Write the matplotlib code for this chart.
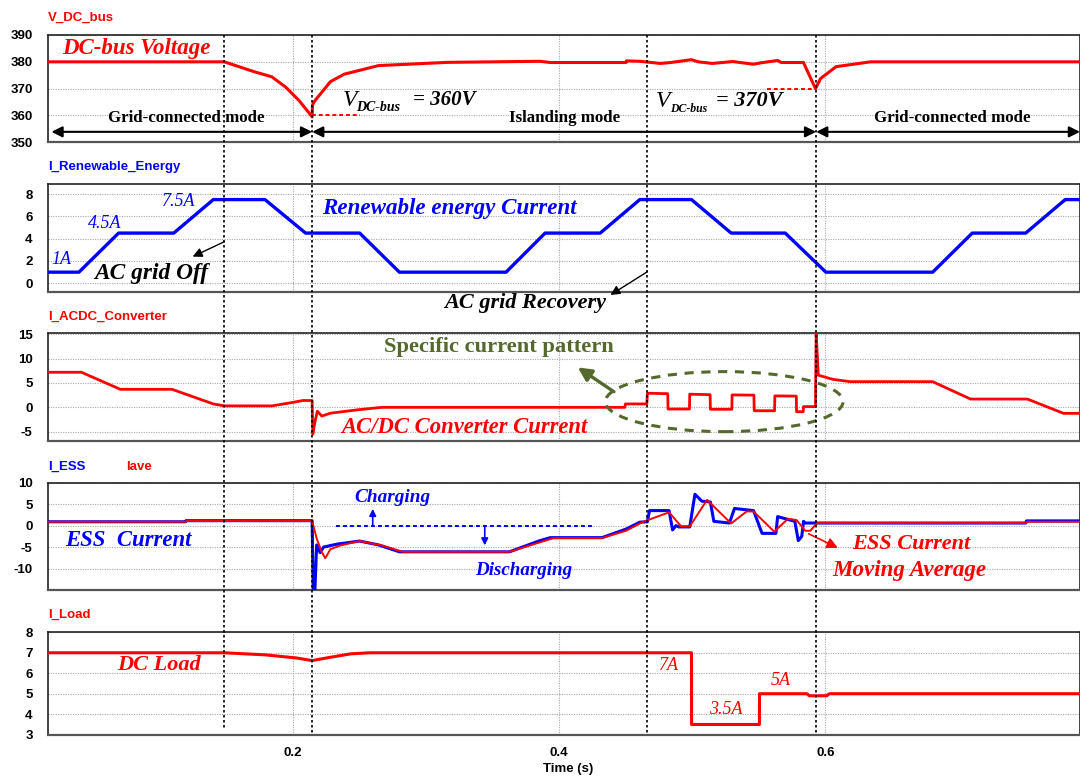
import matplotlib
matplotlib.use("Agg")
import matplotlib.pyplot as plt
from matplotlib.lines import Line2D
from matplotlib.patches import Ellipse
import matplotlib.transforms as mtransforms

plt.rcParams["axes.unicode_minus"] = False

# ---------------- data ----------------
xticks = [0.2, 0.4, 0.6]
xtick_labels = ["0.2", "0.4", "0.6"]
event_times = [0.1488, 0.2147, 0.4664, 0.5931]

vdc_t = [0.0164, 0.1488, 0.170, 0.1845, 0.195, 0.205, 0.2147, 0.2150, 0.2168, 0.2284, 0.2388,
         0.2646, 0.3164, 0.3857, 0.3935, 0.4504, 0.4507, 0.4607, 0.4762, 0.4840, 0.4995, 0.5047,
         0.5151, 0.5306, 0.5461, 0.5512, 0.5642, 0.5668, 0.5836, 0.5926, 0.5965, 0.6081,
         0.6340, 0.7912]
vdc_v = [380, 380, 376.5, 374.4, 370.5, 365.5, 359.5, 364.0, 365.5, 372.6, 375.4,
         378.6, 379.8, 380.2, 379.75, 379.75, 380.35, 380.2, 379.4, 379.75, 380.8, 380.0,
         379.4, 380.1, 379.1, 379.6, 380.5, 379.75, 379.75, 370.0, 373.8, 378.2,
         380.0, 380.0]

ren_t = [0.0164, 0.0396, 0.0694, 0.1108, 0.1405, 0.1793, 0.2098, 0.2504, 0.2802, 0.3603,
         0.3896, 0.4310, 0.4607, 0.4995, 0.5293, 0.5699, 0.6004, 0.6806, 0.7103, 0.7504,
         0.7801, 0.7912]
ren_i = [1.0, 1.0, 4.5, 4.5, 7.5, 7.5, 4.5, 4.5, 1.0, 1.0,
         4.5, 4.5, 7.5, 7.5, 4.5, 4.5, 1.0, 1.0, 4.5, 4.5,
         7.5, 7.5]

acdc_t = [0.0164, 0.0415, 0.0707, 0.1095, 0.1405, 0.1488, 0.1845, 0.2000, 0.2078, 0.2147,
          0.2152, 0.2168, 0.2186, 0.2220, 0.2284, 0.2491, 0.2672, 0.4495, 0.4499, 0.4660,
          0.4664, 0.4817, 0.4819, 0.4980, 0.4982, 0.5135, 0.5137, 0.5298, 0.5300, 0.5464,
          0.5466, 0.5619, 0.5621, 0.5782, 0.5784, 0.5834, 0.5836, 0.5926, 0.5931, 0.5947,
          0.6056, 0.6185, 0.6806, 0.7090, 0.7517, 0.7788, 0.7912]
acdc_i = [7.2, 7.2, 3.7, 3.7, 0.7, 0.3, 0.3, 1.0, 1.4, 1.4,
          -5.5, -3.0, -0.8, -1.8, -1.2, -0.5, 0.0, 0.0, 0.7, 0.7,
          2.9, 2.8, -0.35, -0.35, 2.7, 2.6, -0.4, -0.4, 2.55, 2.5,
          -0.7, -0.7, 2.35, 2.3, -0.9, -0.9, 0.15, 0.15, 15.5, 6.6,
          5.75, 5.27, 5.27, 1.7, 1.7, -1.23, -1.23]

ess_t = [0.0164, 0.1198, 0.1200, 0.2147, 0.2155, 0.2168, 0.2181, 0.2207, 0.2233, 0.2336,
         0.2504, 0.2646, 0.2802, 0.3629, 0.3857, 0.3935, 0.4323, 0.4504, 0.4607, 0.4664,
         0.4680, 0.4827, 0.4853, 0.4879, 0.4900, 0.4982, 0.5021, 0.5073, 0.5137, 0.5163,
         0.5280, 0.5318, 0.5461, 0.5525, 0.5629, 0.5642, 0.5771, 0.5797, 0.5823, 0.5836,
         0.5850, 0.7504, 0.7510, 0.7912]
ess_i = [0.9, 0.9, 1.15, 1.15, -15.0, -15.0, -4.5, -6.3, -5.0, -4.3,
         -3.6, -4.5, -6.1, -6.1, -3.5, -2.8, -2.8, -0.8, 0.8, 0.9,
         3.5, 3.5, -1.0, 0.0, -0.3, -0.3, 7.3, 5.7, 5.5, 1.0,
         0.6, 4.0, 3.5, -1.8, -1.8, 2.1, 1.0, -3.5, -2.5, 1.0,
         0.6, 0.6, 1.1, 1.1]

iave_t = [0.0164, 0.1198, 0.1205, 0.2147, 0.2181, 0.2220, 0.2246, 0.2284, 0.2362, 0.2504,
          0.2672, 0.2827, 0.3629, 0.3960, 0.4323, 0.4504, 0.4633, 0.4827, 0.4918, 0.4982,
          0.5112, 0.5293, 0.5409, 0.5461, 0.5616, 0.5720, 0.5784, 0.5849, 0.5887, 0.5939,
          0.7504, 0.7515, 0.7912]
iave_i = [0.9, 0.9, 1.1, 1.1, -3.0, -6.2, -7.6, -5.5, -4.6, -3.6,
          -4.6, -6.1, -6.1, -2.9, -2.9, -1.2, 0.9, 3.1, -0.2, -0.2,
          6.0, 0.5, 3.3, 3.3, -1.4, 1.6, 1.3, -1.2, -1.2, 0.6,
          0.6, 0.9, 0.9]

load_t = [0.0164, 0.1488, 0.1638, 0.1793, 0.2026, 0.2147, 0.2284, 0.2439, 0.2582, 0.4995,
          0.4996, 0.5505, 0.5506, 0.5862, 0.5880, 0.6010, 0.6030, 0.7912]
load_i = [7.0, 7.0, 6.95, 6.9, 6.75, 6.62, 6.78, 6.95, 7.0, 7.0,
          3.5, 3.5, 5.0, 5.0, 4.9, 4.9, 5.0, 5.0]

# ---------------- styling ----------------
RED = "#ff0000"
BLUE = "#0000ff"
OLIVE = "#55692d"
SERIF = "Liberation Serif"
SANS = "Liberation Sans"
W, H = 1080, 776

fig = plt.figure(figsize=(W / 100, H / 100), dpi=100)

panel_px = [(35.0, 142.3), (184.3, 291.7), (333.3, 440.7), (482.7, 590.0), (632.3, 734.7)]
ylims = [(350, 390), (-0.75, 8.87), (-6.85, 15.2), (-15, 10), (3, 8)]
yticks = [[350, 360, 370, 380, 390], [0, 2, 4, 6, 8], [-5, 0, 5, 10, 15],
          [-10, -5, 0, 5, 10], [3, 4, 5, 6, 7, 8]]
left = 48 / W
axes = []
for i, (top, bot) in enumerate(panel_px):
    ax = fig.add_axes([left, 1 - bot / H, 1 - left, (bot - top) / H],
                      sharex=axes[0] if axes else None)
    ax.set_xlim(0.0164, 0.7912)
    ax.set_ylim(*ylims[i])
    ax.set_yticks(yticks[i])
    ax.set_xticks(xticks)
    ax.grid(True, color="#a8a8a8", linestyle=(0, (1, 1.2)), linewidth=0.8)
    ax.tick_params(length=0, pad=11, labelsize=9.5)
    for lab in ax.get_yticklabels():
        lab.set_fontweight("bold")
        lab.set_fontfamily(SANS)
    for s in ax.spines.values():
        s.set_color("#222222")
        s.set_linewidth(1.2)
    ax.spines["bottom"].set_color("#555555")
    ax.spines["bottom"].set_linewidth(1.6)
    if i < 4:
        ax.tick_params(labelbottom=False)
    axes.append(ax)
ax1, ax2, ax3, ax4, ax5 = axes
ax5.set_xticklabels(xtick_labels, fontfamily=SANS, fontweight="bold", fontsize=9.5)
ax5.tick_params(axis="x", pad=9)

# panel titles
def ftitle(x, y, s, c):
    fig.text(x / W, 1 - y / H, s, color=c, fontsize=9.5, fontweight="bold",
             fontfamily=SANS, va="center", ha="left")

ftitle(48, 18, "V_DC_bus", RED)
ftitle(48, 167, "I_Renewable_Energy", BLUE)
ftitle(48, 317, "I_ACDC_Converter", RED)
ftitle(48, 467, "I_ESS", BLUE)
ftitle(126, 467, "Iave", RED)
ftitle(48, 615, "I_Load", RED)
fig.text(568 / W, 1 - 769 / H, "Time (s)", fontsize=9.5, fontfamily=SANS,
         fontweight="bold", ha="center", va="center")

# series
ax1.plot(vdc_t, vdc_v, color=RED, lw=2.2, zorder=3)
ax2.plot(ren_t, ren_i, color=BLUE, lw=2.4, zorder=3)
ax3.plot(acdc_t, acdc_i, color=RED, lw=2.0, zorder=3)
ax4.plot(ess_t, ess_i, color=BLUE, lw=2.2, zorder=3)
ax4.plot(iave_t, iave_i, color=RED, lw=1.4, zorder=4)
ax5.plot(load_t, load_i, color=RED, lw=2.2, zorder=3)

# vertical event lines across all panels
trans = mtransforms.blended_transform_factory(ax1.transData, fig.transFigure)
for k, t in enumerate(event_times):
    ybot = 730 if k == 0 else 734.7
    fig.add_artist(Line2D([t, t], [1 - 35 / H, 1 - ybot / H], transform=trans,
                          color="black", lw=1.2, linestyle=(0, (1.5, 1.5)), zorder=10))

def itext(ax, x, y, s, c, size, weight="bold", style="italic", ha="left", clip=False):
    ax.text(x, y, s, color=c, fontsize=size, fontweight=weight, fontstyle=style,
            fontfamily=SERIF, ha=ha, va="center", clip_on=clip, zorder=6)

# ---- Panel 1 annotations ----
itext(ax1, 0.0267, 385.0, "DC-bus Voltage", RED, 16.5)
ax1.plot([0.2147, 0.2504], [360, 360], color=RED, lw=1.4, linestyle=(0, (2, 1.5)))
ax1.plot([0.5564, 0.5926], [370, 370], color=RED, lw=1.4, linestyle=(0, (2, 1.5)))
itext(ax1, 0.2375, 365.7, "V", "black", 17, weight="normal")
itext(ax1, 0.2478, 363.0, "DC-bus", "black", 10)
itext(ax1, 0.2905, 365.7, "= 360V", "black", 15)
itext(ax1, 0.4724, 365.3, "V", "black", 17, weight="normal")
itext(ax1, 0.4835, 362.6, "DC-bus", "black", 8.5)
itext(ax1, 0.5176, 365.5, "= 370V", "black", 16)
for a, b in [(0.0190, 0.2147), (0.2147, 0.5931), (0.5931, 0.7912)]:
    ax1.annotate("", xy=(b, 353.9), xytext=(a, 353.9),
                 arrowprops=dict(arrowstyle="<|-|>", color="black", lw=1.5,
                                 mutation_scale=16, shrinkA=0, shrinkB=0))
itext(ax1, 0.1206, 359.1, "Grid-connected mode", "black", 12.2, style="normal", ha="center")
itext(ax1, 0.4045, 359.1, "Islanding mode", "black", 12.2, style="normal", ha="center")
itext(ax1, 0.6953, 359.1, "Grid-connected mode", "black", 12.2, style="normal", ha="center")

# ---- Panel 2 annotations ----
itext(ax2, 0.0190, 2.1, "1A", BLUE, 13, weight="normal")
itext(ax2, 0.0461, 5.4, "4.5A", BLUE, 13, weight="normal")
itext(ax2, 0.1017, 7.35, "7.5A", BLUE, 13, weight="normal")
itext(ax2, 0.0513, 0.85, "AC grid Off", "black", 16.8)
ax2.annotate("", xy=(0.1250, 2.39), xytext=(0.1488, 3.73),
             arrowprops=dict(arrowstyle="-|>", color="black", lw=1.0,
                             mutation_scale=14, shrinkA=0, shrinkB=0))
itext(ax2, 0.2220, 6.72, "Renewable energy Current", BLUE, 16.6)
itext(ax2, 0.3745, -1.76, "AC grid Recovery", "black", 16, ha="center")
ax2.annotate("", xy=(0.4387, -1.04), xytext=(0.4664, 1.04), annotation_clip=False,
             arrowprops=dict(arrowstyle="-|>", color="black", lw=1.0,
                             mutation_scale=14, shrinkA=0, shrinkB=0))

# ---- Panel 3 annotations ----
itext(ax3, 0.2685, 12.3, "Specific current pattern", OLIVE, 16.2, style="normal")
ax3.add_patch(Ellipse((0.5241, 1.17), 0.1784, 12.33, fill=False, edgecolor=OLIVE,
                      lw=2.2, linestyle=(0, (3, 2.5)), zorder=5))
ax3.annotate("", xy=(0.4142, 8.2), xytext=(0.4413, 3.2),
             arrowprops=dict(arrowstyle="-|>", color=OLIVE, lw=2.4,
                             mutation_scale=20, shrinkA=0, shrinkB=0))
itext(ax3, 0.2362, -4.1, "AC/DC Converter Current", RED, 16.3)

# ---- Panel 4 annotations ----
itext(ax4, 0.0293, -3.46, "ESS  Current", BLUE, 16.4)
ax4.plot([0.2323, 0.4271], [0, 0], color=BLUE, lw=1.4, linestyle=(0, (2, 1.6)))
itext(ax4, 0.2465, 6.5, "Charging", BLUE, 13.9)
itext(ax4, 0.3371, -10.4, "Discharging", BLUE, 13.7)
ax4.annotate("", xy=(0.2602, 3.9), xytext=(0.2602, 0),
             arrowprops=dict(arrowstyle="-|>", color=BLUE, lw=1.2,
                             mutation_scale=10, shrinkA=0, shrinkB=0))
ax4.annotate("", xy=(0.3443, -4.6), xytext=(0.3443, 0),
             arrowprops=dict(arrowstyle="-|>", color=BLUE, lw=1.2,
                             mutation_scale=10, shrinkA=0, shrinkB=0))
itext(ax4, 0.6198, -4.2, "ESS Current", RED, 16)
itext(ax4, 0.6056, -10.4, "Moving Average", RED, 16.6)
ax4.annotate("", xy=(0.6094, -5.2), xytext=(0.5875, -1.9),
             arrowprops=dict(arrowstyle="-|>", color=RED, lw=1.2,
                             mutation_scale=16, shrinkA=0, shrinkB=0))

# ---- Panel 5 annotations ----
itext(ax5, 0.0681, 6.4, "DC Load", RED, 16)
itext(ax5, 0.4749, 6.37, "7A", RED, 13, weight="normal")
itext(ax5, 0.5125, 4.24, "3.5A", RED, 13, weight="normal")
itext(ax5, 0.5590, 5.67, "5A", RED, 13, weight="normal")

fig.savefig("out.png", dpi=100)
